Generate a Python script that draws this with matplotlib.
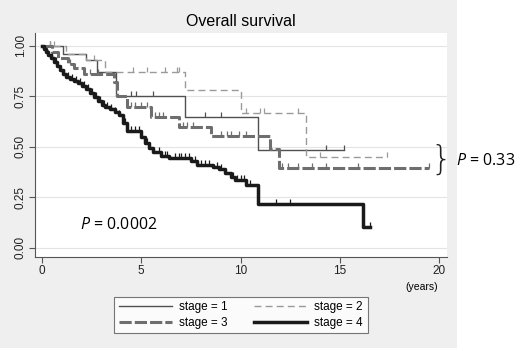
import numpy as np
import matplotlib
matplotlib.use("Agg")
import matplotlib.pyplot as plt
from matplotlib.patches import Rectangle

plt.rcParams['font.family'] = ['Liberation Sans', 'DejaVu Sans']
plt.rcParams['mathtext.fontset'] = 'custom'
plt.rcParams['mathtext.it'] = 'Open Sans:italic'
plt.rcParams['mathtext.rm'] = 'Open Sans'

# Kaplan-Meier step data (time in years, survival after the drop)
t1 = [0, 1.05, 2.2, 2.75, 3.75, 7.2, 10.9, 15.2]
s1 = [1.0, 0.96, 0.93, 0.87, 0.75, 0.65, 0.485, 0.485]
c1 = [0.4, 4.5, 4.75, 5.6, 8.2, 9.0, 14.3, 15.2]

t2 = [0, 1.2, 2.2, 3.2, 7.2, 10.0, 13.3, 17.4]
s2 = [1.0, 0.96, 0.93, 0.87, 0.78, 0.67, 0.45, 0.45]
c2 = [0.4, 0.6, 2.6, 4.6, 5.3, 6.2, 6.8, 6.9, 10.3, 11.0, 11.2, 12.9, 14.0, 17.4]

t3 = [0, 0.5, 0.8, 1.3, 1.6, 2.1, 3.65, 3.8, 4.3, 5.5, 6.9, 8.5, 11.5, 11.95, 19.5]
s3 = [1.0, 0.97, 0.94, 0.91, 0.89, 0.86, 0.82, 0.75, 0.70, 0.65, 0.60, 0.555, 0.49, 0.395, 0.395]
c3 = [1.4, 2.4, 2.8, 4.5, 4.7, 5.0, 5.3, 5.7, 5.9, 6.1, 7.1, 7.3, 7.6, 9.0, 9.3, 9.5, 9.9,
      10.3, 12.1, 12.4, 12.9, 13.6, 14.3, 15.9, 19.5]

t4 = [0, 0.1, 0.2, 0.3, 0.45, 0.6, 0.75, 0.9, 1.05, 1.2, 1.4, 1.6, 1.8, 2.0, 2.2, 2.4, 2.6,
      2.8, 3.0, 3.2, 3.45, 3.7, 3.9, 4.1, 4.3, 5.0, 5.2, 5.4, 5.6, 6.0, 6.4, 7.5, 7.8, 8.6,
      8.9, 9.2, 9.5, 9.7, 10.3, 10.9, 16.15, 16.5]
s4 = [1.0, 0.985, 0.97, 0.955, 0.94, 0.92, 0.90, 0.88, 0.86, 0.845, 0.835, 0.825, 0.815,
      0.80, 0.785, 0.765, 0.745, 0.725, 0.71, 0.70, 0.69, 0.675, 0.66, 0.62, 0.58, 0.55,
      0.52, 0.495, 0.475, 0.455, 0.445, 0.43, 0.41, 0.40, 0.39, 0.37, 0.35, 0.337, 0.31,
      0.215, 0.105, 0.105]
c4 = [0.3, 0.5, 0.7, 0.9, 1.1, 1.3, 1.5, 1.7, 1.9, 2.1, 2.3, 2.5, 2.7, 2.9, 3.1, 3.3, 3.5,
      3.7, 3.9, 4.2, 4.5, 4.7, 4.9, 5.3, 5.9, 6.2, 6.3, 6.7, 6.9, 7.0, 7.2, 7.4, 7.7, 8.0,
      8.2, 8.4, 8.8, 9.0, 9.6, 9.8, 10.0, 10.2, 10.5, 11.8, 12.5, 16.5]

labels = ['stage = 1', 'stage = 2', 'stage = 3', 'stage = 4']

fig = plt.figure(figsize=(5.2, 3.51), dpi=100)
fig.patches.append(Rectangle((0, 0.008), 457 / 520, 0.992, transform=fig.transFigure,
                             facecolor='#efefef', edgecolor='none', zorder=-10))

ax = fig.add_axes([35 / 520, 1 - 257 / 351, 412 / 520, 224 / 351])
ax.set_facecolor('white')


def km(t, s, c, **kw):
    line, = ax.plot(t, s, drawstyle='steps-post', **kw)
    idx = np.searchsorted(t, c, side='right') - 1
    cs = np.array(s)[idx]
    ax.plot(c, cs, linestyle='none', marker=2, markersize=3.5,
            markeredgewidth=0.9, color=kw.get('color'))
    return line


h1 = km(t1, s1, c1, color='#505050', lw=1.0, label=labels[0])
h2 = km(t2, s2, c2, color='#9a9a9a', lw=1.0, dashes=(5, 3), label=labels[1])
h3 = km(t3, s3, c3, color='#6e6e6e', lw=2.2, dashes=(4, 1), label=labels[2])
h4 = km(t4, s4, c4, color='#1a1a1a', lw=2.5, label=labels[3])

ax.set_xlim(-0.35, 20.4)
ax.set_ylim(-0.045, 1.064)
ax.set_xticks([0, 5, 10, 15, 20])
ax.set_yticks([0, 0.25, 0.5, 0.75, 1.0])
ax.set_yticklabels(['0.00', '0.25', '0.50', '0.75', '1.00'], rotation=90, va='center')
ax.tick_params(labelsize=8.5, length=4, width=0.8, color='#555555', labelcolor='#222222', pad=2)
ax.grid(axis='y', color='#e4e4e4', lw=0.8)
ax.set_axisbelow(True)
for sp in ['top', 'right']:
    ax.spines[sp].set_visible(False)
for sp in ['left', 'bottom']:
    ax.spines[sp].set_color('#555555')
    ax.spines[sp].set_linewidth(0.8)

fig.text(241 / 520, 1 - 22 / 351, 'Overall survival', ha='center', va='center', fontsize=11.5)
fig.text(422 / 520, 1 - 287 / 351, '(years)', ha='center', va='center', fontsize=7.5)

ax.text(1.9, 0.115, '$\\mathit{P}$ = 0.0002', fontsize=11.5, family='Open Sans',
        va='center', ha='left')
fig.text(441 / 520, 1 - 160 / 351, '}', fontsize=24, family='DejaVu Sans', ha='center',
         va='center', fontweight='light', color='#222222')
fig.text(456 / 520, 1 - 161 / 351, '$\\mathit{P}$ = 0.33', fontsize=11.5, family='Open Sans',
         ha='left', va='center')

leg = fig.legend([h1, h3, h2, h4], [labels[0], labels[2], labels[1], labels[3]], ncol=2,
                 loc='center', bbox_to_anchor=(241 / 520, 1 - 315 / 351), fontsize=8.5,
                 frameon=True, fancybox=False, handlelength=4.5, columnspacing=2.2,
                 borderpad=0.4, labelspacing=0.3, handletextpad=0.6)
leg.get_frame().set_edgecolor('#555555')
leg.get_frame().set_linewidth(0.8)

fig.savefig('out.png', dpi=100)
